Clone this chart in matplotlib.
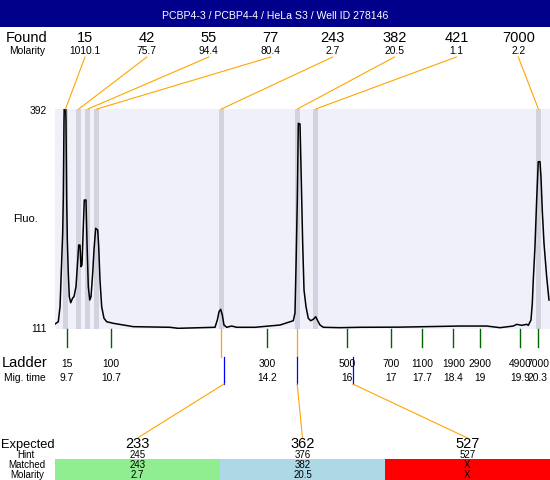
import matplotlib
matplotlib.use('Agg')
import matplotlib.pyplot as plt
import numpy as np
from matplotlib.patches import Rectangle

plt.rcParams['font.family'] = ['Liberation Sans', 'DejaVu Sans']

title = "PCBP4-3 / PCBP4-4 / HeLa S3 / Well ID 278146"

# electropherogram trace (migration time [min], fluorescence)
trace_time = [9.437, 9.511, 9.550, 9.588, 9.610, 9.624, 9.640, 9.646, 9.662, 9.678,
              9.684, 9.700, 9.714, 9.736, 9.759, 9.790, 9.835, 9.864, 9.909, 9.939,
              9.970, 9.999, 10.022, 10.044, 10.074, 10.096, 10.134, 10.157, 10.186, 10.218,
              10.247, 10.285, 10.314, 10.352, 10.398, 10.420, 10.449, 10.487, 10.539, 10.600,
              10.748, 11.198, 12.024, 12.204, 13.036, 13.088, 13.126, 13.164, 13.200, 13.238,
              13.299, 13.411, 13.524, 13.935, 14.498, 14.797, 14.835, 14.858, 14.887, 14.910,
              14.948, 14.970, 15.008, 15.038, 15.083, 15.134, 15.188, 15.247, 15.301, 15.337,
              15.398, 15.472, 15.847, 16.297, 17.197, 18.546, 18.996, 19.147, 19.446, 19.745,
              19.822, 19.934, 20.047, 20.083, 20.143, 20.173, 20.195, 20.233, 20.271, 20.307,
              20.346, 20.368, 20.397, 20.436, 20.496, 20.548]
trace_fluo = [117.0, 119.9, 139.1, 198.9, 233.4, 279.8, 377.9, 395.0, 420.0, 395.0,
              377.9, 275.6, 224.4, 182.2, 151.9, 144.2, 150.3, 151.9, 164.7, 190.3,
              218.0, 218.0, 190.3, 192.5, 241.5, 275.6, 275.6, 220.6, 164.7, 147.7,
              151.9, 182.2, 211.6, 239.4, 237.2, 215.9, 173.3, 139.1, 124.3, 119.9,
              117.9, 113.6, 112.8, 111.5, 112.8, 122.1, 132.7, 135.8, 128.5, 115.7,
              112.8, 114.4, 112.8, 112.8, 115.7, 121.2, 131.1, 190.3, 275.6, 373.7,
              372.8, 318.2, 220.2, 160.5, 139.1, 124.3, 121.2, 123.0, 126.3, 122.1,
              115.7, 112.8, 112.3, 112.8, 113.0, 114.4, 114.4, 114.4, 112.3, 114.4,
              116.6, 115.3, 116.6, 115.3, 122.1, 143.5, 173.3, 215.9, 275.6, 324.6,
              324.6, 305.4, 262.8, 220.2, 177.5, 147.7]

found_sizes = ['15', '42', '55', '77', '243', '382', '421', '7000']
found_molarity = ['1010.1', '75.7', '94.4', '80.4', '2.7', '20.5', '1.1', '2.2']
found_time = [9.673, 9.972, 10.179, 10.38, 13.18, 14.89, 15.30, 20.31]

ladder_sizes = [15, 100, 300, 500, 700, 1100, 1900, 2900, 4900, 7000]
ladder_time = [9.7, 10.7, 14.2, 16, 17, 17.7, 18.4, 19, 19.9, 20.3]

expected = ['233', '362', '527']
hint = [245, 376, 527]
matched = ['243', '382', 'X']
matched_molarity = ['2.7', '20.5', 'X']
matched_found = [4, 5, None]
matched_colors = ['#90ee90', '#add8e6', '#ff0000']

y_min, y_max = 111, 392

W, H = 550, 480
fig = plt.figure(figsize=(W / 100, H / 100), dpi=100)
fig.patch.set_facecolor('white')

# main plot area
ax = fig.add_axes([55 / W, (H - 328.7) / H, 495 / W, 219.7 / H])
ax.set_xlim(9.437, 20.571)
ax.set_ylim(y_min, y_max)
ax.set_facecolor('#f0f0fa')
for s in ax.spines.values():
    s.set_visible(False)
ax.set_xticks([])
ax.set_yticks([])
for t in found_time:
    ax.axvspan(t - 0.056, t + 0.056, color='#d3d3e0', lw=0, zorder=1)
ax.plot(trace_time, trace_fluo, color='black', lw=1.1, zorder=3)

# overlay in pixel coordinates
ov = fig.add_axes([0, 0, 1, 1], zorder=5)
ov.set_xlim(0, W)
ov.set_ylim(H, 0)
ov.axis('off')
ov.patch.set_alpha(0)


def px(t):
    return ax.transData.transform((t, y_min))[0] * W / fig.bbox.width


ORANGE = '#ffa500'
BLUE = '#0000ff'
GREEN = '#006400'
SMALL = 7.4

# header
ov.add_patch(Rectangle((0, 0), W, 27, color='#00008b', lw=0))
ov.text(W / 2, 19.3, title, color='white', fontsize=7.6, ha='center', va='baseline')

# found row
ov.text(27, 41.5, 'Found', fontsize=10.5, ha='center', va='baseline')
ov.text(27.5, 53.5, 'Molarity', fontsize=SMALL, ha='center', va='baseline')
for i, (s, m, t) in enumerate(zip(found_sizes, found_molarity, found_time)):
    lx = 85 + 61.9 * i
    ov.text(lx, 41.5, s, fontsize=10.5, ha='center', va='baseline')
    ov.text(lx, 53.5, m, fontsize=SMALL, ha='center', va='baseline')
    ov.plot([lx, px(t)], [57, 109], color=ORANGE, lw=0.8)

# y labels
ov.text(47, 114, str(y_max), fontsize=7.4, ha='right', va='baseline')
ov.text(47, 331.7, str(y_min), fontsize=7.4, ha='right', va='baseline')
ov.text(26, 222.5, 'Fluo.', fontsize=8, ha='center', va='baseline')

# ladder
ov.text(25, 366.7, 'Ladder', fontsize=10.5, ha='center', va='baseline')
ov.text(25, 381, 'Mig. time', fontsize=SMALL, ha='center', va='baseline')
for s, t in zip(ladder_sizes, ladder_time):
    x = px(t)
    ov.plot([x, x], [328.7, 347.3], color=GREEN, lw=1)
    ov.text(x, 366.7, str(s), fontsize=SMALL, ha='center', va='baseline')
    ov.text(x, 381, f'{t:g}', fontsize=SMALL, ha='center', va='baseline')

# expected / matched
ov.text(27.5, 448.3, 'Expected', fontsize=9.3, ha='center', va='baseline')
ov.text(26, 458.3, 'Hint', fontsize=7, ha='center', va='baseline')
ov.text(27, 468.3, 'Matched', fontsize=7, ha='center', va='baseline')
ov.text(27, 477.7, 'Molarity', fontsize=7, ha='center', va='baseline', zorder=6)
for i in range(3):
    x0 = 55 + 165 * i
    cx = x0 + 82.5
    ov.add_patch(Rectangle((x0, 459.3), 165, 21, color=matched_colors[i], lw=0))
    ov.text(cx, 448.3, expected[i], fontsize=10.5, ha='center', va='baseline')
    ov.text(cx, 458.3, str(hint[i]), fontsize=7, ha='center', va='baseline')
    ov.text(cx, 468.3, matched[i], fontsize=7, ha='center', va='baseline', zorder=6)
    ov.text(cx, 477.7, matched_molarity[i], fontsize=7, ha='center', va='baseline', zorder=6)
    hx = px(np.interp(hint[i], ladder_sizes, ladder_time))
    if matched_found[i] is not None:
        fx = px(found_time[matched_found[i]])
        ov.plot([fx, fx], [328.7, 357], color=ORANGE, lw=0.9)
    ov.plot([hx, hx], [357, 384], color=BLUE, lw=0.9)
    ov.plot([hx, cx], [384, 438], color=ORANGE, lw=0.8)

fig.savefig('out.png', dpi=100, facecolor='white')
